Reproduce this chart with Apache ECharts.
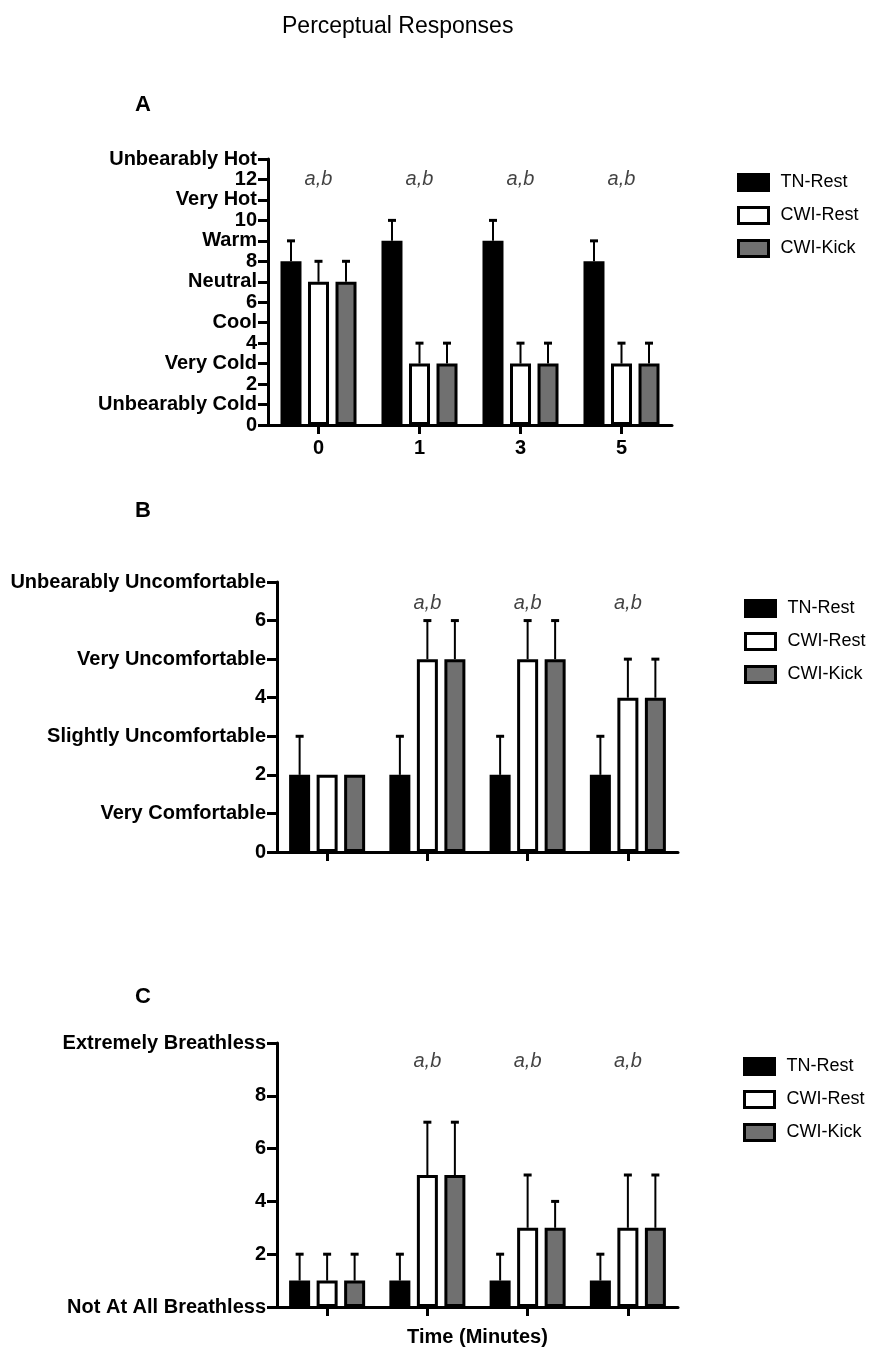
<!DOCTYPE html>
<html>
<head>
<meta charset="utf-8">
<script src="https://cdn.jsdelivr.net/npm/echarts@6/dist/echarts.min.js"></script>
<style>
  html, body { margin: 0; padding: 0; background: #fff; }
  #chart { width: 883px; height: 1348px; }
</style>
</head>
<body>
<div id="chart"></div>
<script>
// ---- data ----
var categories = ['0', '1', '3', '5'];
var groupNames = ['TN-Rest', 'CWI-Rest', 'CWI-Kick'];

// A: thermal sensation
var thermalTN = [8, 9, 9, 8];
var thermalRest = [7, 3, 3, 3];
var thermalKick = [7, 3, 3, 3];
var thermalTNErr = [1, 1, 1, 1];
var thermalRestErr = [1, 1, 1, 1];
var thermalKickErr = [1, 1, 1, 1];
var thermalTicks = ['0', 'Unbearably Cold', '2', 'Very Cold', '4', 'Cool', '6', 'Neutral',
	'8', 'Warm', '10', 'Very Hot', '12', 'Unbearably Hot'];
var thermalNotes = ['a,b', 'a,b', 'a,b', 'a,b'];

// B: thermal comfort
var comfortTN = [2, 2, 2, 2];
var comfortRest = [2, 5, 5, 4];
var comfortKick = [2, 5, 5, 4];
var comfortTNErr = [1, 1, 1, 1];
var comfortRestErr = [0, 1, 1, 1];
var comfortKickErr = [0, 1, 1, 1];
var comfortTicks = ['0', 'Very Comfortable', '2', 'Slightly Uncomfortable', '4',
	'Very Uncomfortable', '6', 'Unbearably Uncomfortable'];
var comfortNotes = ['', 'a,b', 'a,b', 'a,b'];

// C: breathlessness
var breathTN = [1, 1, 1, 1];
var breathRest = [1, 5, 3, 3];
var breathKick = [1, 5, 3, 3];
var breathTNErr = [1, 1, 1, 1];
var breathRestErr = [1, 2, 2, 2];
var breathKickErr = [1, 2, 1, 2];
var breathTicks = ['Not At All Breathless', '2', '4', '6', '8', 'Extremely Breathless'];
var breathNotes = ['', 'a,b', 'a,b', 'a,b'];

// ---- style ----
var FONT = "'Liberation Sans', Arial, Helvetica, sans-serif";
var fills = ['#000000', '#ffffff', '#707070'];
var BAR_W = 21;
var BAR_STEP = 27.5;

var chart = echarts.init(document.getElementById('chart'));

function yAxisFor(idx, max, interval, ticks) {
	return {
		gridIndex: idx, type: 'value', min: 0, max: max, interval: interval,
		splitLine: { show: false },
		axisLine: { show: true, lineStyle: { color: '#000', width: 3 } },
		axisTick: { show: true, length: 10, lineStyle: { color: '#000', width: 3 } },
		axisLabel: {
			margin: 11, color: '#000', fontFamily: FONT, fontWeight: 'bold', fontSize: 20,
			formatter: function (v) { return ticks[Math.round(v / interval)]; }
		}
	};
}

function xAxisFor(idx, showLabels, name) {
	return {
		gridIndex: idx, type: 'category', data: categories,
		axisLine: { show: true, onZero: false, lineStyle: { color: '#000', width: 3 } },
		axisTick: { show: true, alignWithLabel: true, length: 9, lineStyle: { color: '#000', width: 3 } },
		axisLabel: { show: showLabels, margin: 13, color: '#000', fontFamily: FONT, fontWeight: 'bold', fontSize: 20 },
		name: name || '', nameLocation: 'middle', nameGap: 20,
		nameTextStyle: { color: '#000', fontFamily: FONT, fontWeight: 'bold', fontSize: 20 }
	};
}

function panelSeries(idx, means, errs, notes, noteLevel) {
	var out = [];
	means.forEach(function (vals, i) {
		out.push({
			name: groupNames[i], type: 'bar', xAxisIndex: idx, yAxisIndex: idx,
			barWidth: BAR_W, barGap: '31%', data: vals,
			itemStyle: { color: fills[i], borderColor: '#000', borderWidth: 3 }
		});
	});
	means.forEach(function (vals, i) {
		var offset = (i - 1) * BAR_STEP;
		out.push({
			type: 'custom', xAxisIndex: idx, yAxisIndex: idx, silent: true, z: 3,
			data: vals.map(function (v, k) { return [k, v, v + errs[i][k]]; }),
			renderItem: function (params, api) {
				if (api.value(2) <= api.value(1)) return null;
				var base = api.coord([api.value(0), api.value(1)]);
				var top = api.coord([api.value(0), api.value(2)]);
				var x = base[0] + offset;
				return {
					type: 'group', children: [
						{ type: 'line', shape: { x1: x, y1: base[1], x2: x, y2: top[1] }, style: { stroke: '#000', lineWidth: 2 } },
						{ type: 'line', shape: { x1: x - 4, y1: top[1], x2: x + 4, y2: top[1] }, style: { stroke: '#000', lineWidth: 3 } }
					]
				};
			}
		});
	});
	out.push({
		type: 'scatter', xAxisIndex: idx, yAxisIndex: idx, symbolSize: 0, silent: true,
		data: notes.map(function (t, k) { return [k, noteLevel, t]; }),
		label: {
			show: true, position: 'inside', color: '#111', textBorderWidth: 0, fontFamily: FONT,
			fontStyle: 'italic', fontSize: 20,
			formatter: function (p) { return p.data[2]; }
		}
	});
	return out;
}

function legendFor(left, top) {
	return {
		left: left, top: top, orient: 'vertical', data: groupNames,
		icon: 'rect', itemWidth: 30, itemHeight: 16, itemGap: 14,
		itemStyle: { borderColor: '#000', borderWidth: 3 },
		textStyle: { color: '#000', fontFamily: FONT, fontSize: 18, padding: [0, 0, 0, 7] }
	};
}

function letter(t, top) {
	return { text: t, left: 130, top: top, textStyle: { fontFamily: FONT, fontWeight: 'bold', fontSize: 22, color: '#000' } };
}

var option = {
	animation: false,
	title: [
		{ text: 'Perceptual Responses', left: 277, top: 10,
			textStyle: { fontFamily: FONT, fontWeight: 'normal', fontSize: 23, color: '#000' } },
		letter('A', 89), letter('B', 495), letter('C', 981)
	],
	legend: [legendFor(732, 168), legendFor(739, 594), legendFor(738, 1052)],
	grid: [
		{ left: 268, right: 211, top: 159, height: 266 },
		{ left: 277, right: 205, top: 582, height: 270 },
		{ left: 277, right: 205, top: 1043, height: 266 }
	],
	xAxis: [xAxisFor(0, true), xAxisFor(1, false), xAxisFor(2, false, 'Time (Minutes)')],
	yAxis: [yAxisFor(0, 13, 1, thermalTicks), yAxisFor(1, 7, 1, comfortTicks), yAxisFor(2, 10, 2, breathTicks)],
	series: [].concat(
		panelSeries(0, [thermalTN, thermalRest, thermalKick], [thermalTNErr, thermalRestErr, thermalKickErr], thermalNotes, 12),
		panelSeries(1, [comfortTN, comfortRest, comfortKick], [comfortTNErr, comfortRestErr, comfortKickErr], comfortNotes, 6.45),
		panelSeries(2, [breathTN, breathRest, breathKick], [breathTNErr, breathRestErr, breathKickErr], breathNotes, 9.3)
	)
};

chart.setOption(option);
</script>
</body>
</html>
